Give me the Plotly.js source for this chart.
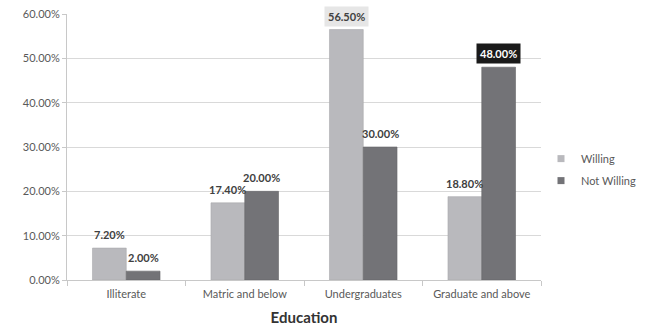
<!DOCTYPE html>
<html>
<head>
<meta charset="utf-8">
<script src="https://cdn.plot.ly/plotly-3.0.1.min.js"></script>
<style>
  html, body { margin: 0; padding: 0; background: #fff; }
  #chart { width: 650px; height: 326px; }
</style>
</head>
<body>
<div id="chart"></div>
<script>
// Willingness by education level (percent of respondents)
const categories = ["Illiterate", "Matric and below", "Undergraduates", "Graduate and above"];
const willing = [7.2, 17.4, 56.5, 18.8];
const notWilling = [2.0, 20.0, 30.0, 48.0];
const seriesNames = ["Willing", "Not Willing"];

const FONT = "Lato, 'Open Sans', sans-serif";
const colWilling = "#b9b9bd";
const colNot = "#737377";

const traces = [
  {
    type: "bar", name: seriesNames[0], x: categories, y: willing,
    marker: { color: colWilling, line: { color: "#a9a9ad", width: 0.6 } },
    showlegend: false, hoverinfo: "skip"
  },
  {
    type: "bar", name: seriesNames[1], x: categories, y: notWilling,
    marker: { color: colNot, line: { color: "#646468", width: 0.6 } },
    showlegend: false, hoverinfo: "skip"
  },
  // legend keys drawn as small squares
  {
    type: "scatter", mode: "markers", name: seriesNames[0], x: [null], y: [null],
    marker: { symbol: "square", size: 7, color: colWilling },
    legendgroup: "w", hoverinfo: "skip"
  },
  {
    type: "scatter", mode: "markers", name: seriesNames[1], x: [null], y: [null],
    marker: { symbol: "square", size: 7, color: colNot },
    legendgroup: "n", hoverinfo: "skip"
  }
];

// value labels above each bar; the tallest bar of each series gets a boxed label
function labels(values, shift, maxStyle) {
  const maxV = Math.max(...values);
  return values.map((v, i) => {
    const isMax = v === maxV;
    const a = {
      x: categories[i], y: v, xref: "x", yref: "y",
      text: v.toFixed(2) + "%",
      showarrow: false, xshift: shift, yanchor: "bottom", yshift: 5,
      font: { family: FONT, size: 11, color: "#404040", weight: "bold" }
    };
    if (isMax && maxStyle) {
      a.bgcolor = maxStyle.bg;
      a.font.color = maxStyle.fg;
      a.borderpad = 3;
      a.yshift = 3;
    }
    return a;
  });
}

const annotations = [
  ...labels(willing, -17, { bg: "#e6e6e6", fg: "#404040" }),
  ...labels(notWilling, 17, { bg: "#1a1a1a", fg: "#ffffff" })
];

const layout = {
  width: 650, height: 326,
  margin: { l: 67, r: 109, t: 14, b: 46, autoexpand: false },
  paper_bgcolor: "#ffffff", plot_bgcolor: "#ffffff",
  font: { family: FONT, size: 11, color: "#595959" },
  barmode: "group",
  bargap: 0.43, bargroupgap: 0,
  showlegend: true,
  legend: {
    x: 1.0, y: 0.415, xanchor: "left", yanchor: "middle",
    font: { family: FONT, size: 11, color: "#595959" },
    bgcolor: "rgba(0,0,0,0)",
    tracegroupgap: 3, itemwidth: 30
  },
  xaxis: {
    type: "category",
    showline: true, linecolor: "#c8c8c8", linewidth: 1,
    ticks: "outside", tickson: "boundaries", ticklen: 5, tickcolor: "#c8c8c8",
    tickfont: { family: FONT, size: 11, color: "#595959" },
    ticklabelstandoff: 4,
    showgrid: false,
    title: { text: "Education", font: { family: FONT, size: 15, color: "#333333", weight: "bold" }, standoff: 14 }
  },
  yaxis: {
    range: [0, 60], dtick: 10, tick0: 0,
    tickformat: ".2f", ticksuffix: "%",
    showline: true, linecolor: "#c8c8c8", linewidth: 1,
    ticks: "outside", ticklen: 4, tickcolor: "#c8c8c8",
    showgrid: true, gridcolor: "#d9d9d9", gridwidth: 1,
    zeroline: false,
    tickfont: { family: FONT, size: 11, color: "#595959" }
  },
  annotations: annotations
};

Plotly.newPlot("chart", traces, layout, { displayModeBar: false, staticPlot: true });
</script>
</body>
</html>
